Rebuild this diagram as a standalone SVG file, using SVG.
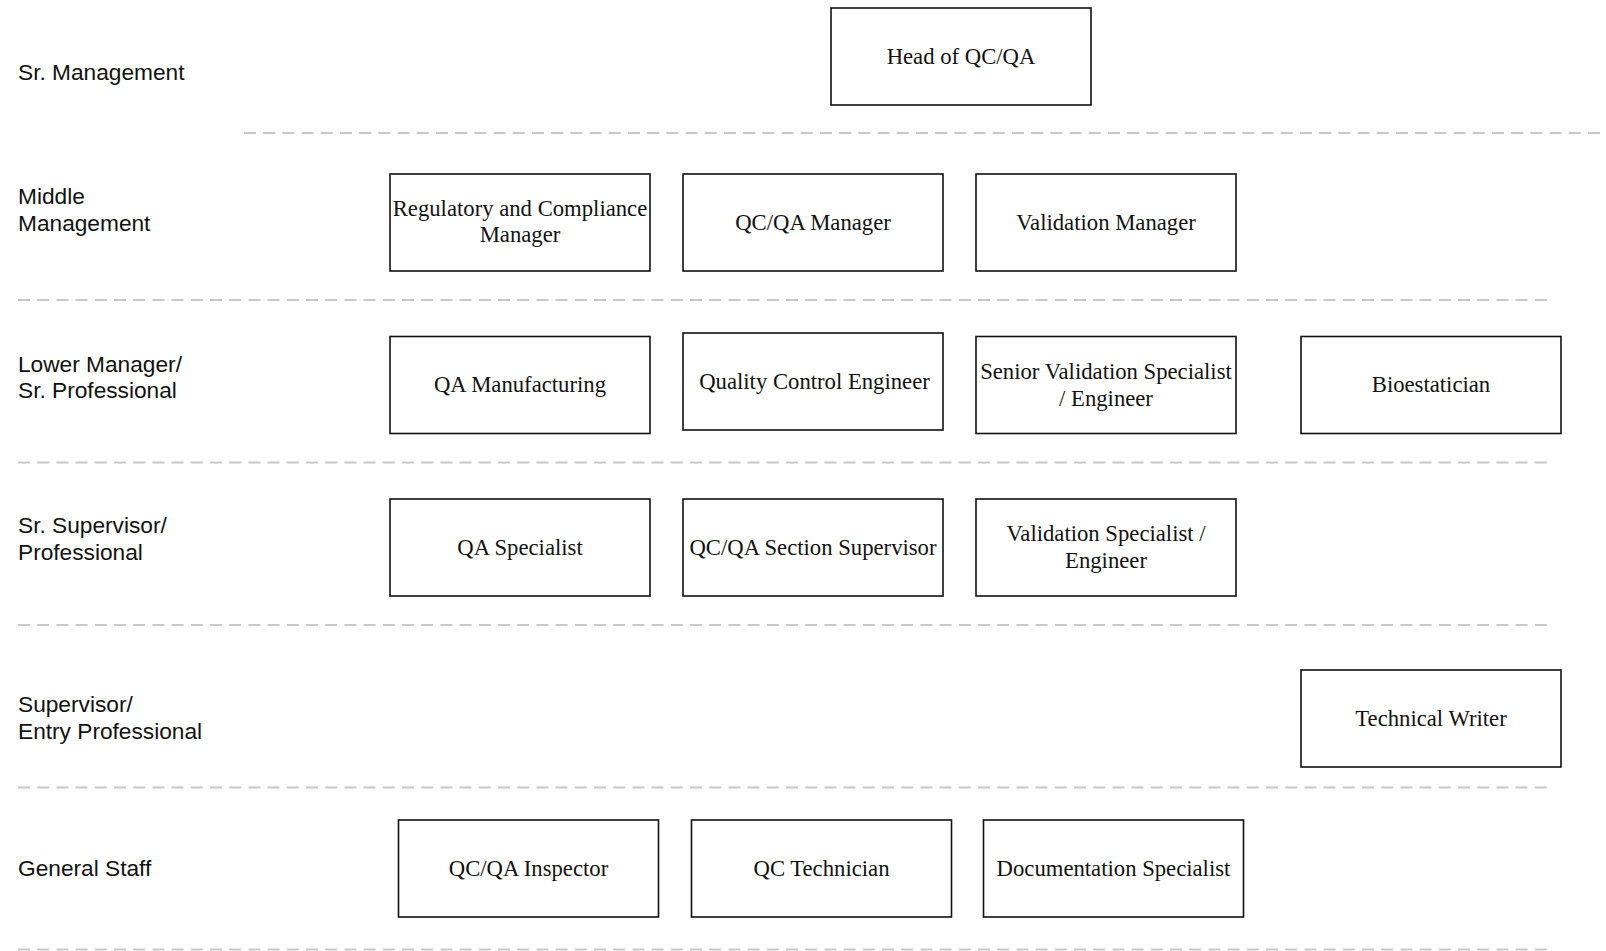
<svg xmlns="http://www.w3.org/2000/svg" width="1606" height="951" viewBox="0 0 1606 951">
<style>
.bg{fill:#ffffff}
.box{fill:#ffffff;stroke:#111111;stroke-width:1.6}
.t{font-family:"Liberation Serif","Times New Roman",serif;font-size:22.7px;fill:#111111;text-anchor:middle}
.lbl{font-family:"Liberation Sans",Arial,sans-serif;font-size:22.7px;fill:#111111}
.sep{stroke:#c8c8c8;stroke-width:2;stroke-dasharray:12 7.2;fill:none}
</style>
<rect class="bg" x="0" y="0" width="1606" height="951"/>
<g id="separators">
<line class="sep" x1="244" y1="133" x2="1606" y2="133"/>
<line class="sep" x1="18" y1="300" x2="1547" y2="300"/>
<line class="sep" x1="18" y1="462.5" x2="1547" y2="462.5"/>
<line class="sep" x1="18" y1="625" x2="1547" y2="625"/>
<line class="sep" x1="18" y1="787.5" x2="1547" y2="787.5"/>
<line class="sep" x1="18" y1="949.5" x2="1547" y2="949.5"/>
</g>
<g id="levels">
<text class="lbl" x="18" y="80">Sr. Management</text>
<text class="lbl" x="18" y="204">Middle</text>
<text class="lbl" x="18" y="231">Management</text>
<text class="lbl" x="18" y="371.5">Lower Manager/</text>
<text class="lbl" x="18" y="398">Sr. Professional</text>
<text class="lbl" x="18" y="533">Sr. Supervisor/</text>
<text class="lbl" x="18" y="560">Professional</text>
<text class="lbl" x="18" y="711.5">Supervisor/</text>
<text class="lbl" x="18" y="738.5">Entry Professional</text>
<text class="lbl" x="18" y="875.5">General Staff</text>
</g>
<g id="head-qcqa"><rect class="box" x="831" y="8" width="260" height="97"/><text class="t" x="961" y="63.5">Head of QC/QA</text></g>
<g id="regulatory-compliance-manager"><rect class="box" x="390" y="174" width="260" height="97"/><text class="t" x="520" y="215.5">Regulatory and Compliance</text><text class="t" x="520" y="242">Manager</text></g>
<g id="qcqa-manager"><rect class="box" x="683" y="174" width="260" height="97"/><text class="t" x="813" y="229.5">QC/QA Manager</text></g>
<g id="validation-manager"><rect class="box" x="976" y="174" width="260" height="97"/><text class="t" x="1106" y="229.5">Validation Manager</text></g>
<g id="qa-manufacturing"><rect class="box" x="390" y="336.5" width="260" height="97"/><text class="t" x="520" y="392">QA Manufacturing</text></g>
<g id="quality-control-engineer"><rect class="box" x="683" y="333" width="260" height="97"/><text class="t" x="814.5" y="388.5">Quality Control Engineer</text></g>
<g id="senior-validation-specialist"><rect class="box" x="976" y="336.5" width="260" height="97"/><text class="t" x="1106" y="379">Senior Validation Specialist</text><text class="t" x="1106" y="405.5">/ Engineer</text></g>
<g id="bioestatician"><rect class="box" x="1301" y="336.5" width="260" height="97"/><text class="t" x="1431" y="392">Bioestatician</text></g>
<g id="qa-specialist"><rect class="box" x="390" y="499" width="260" height="97"/><text class="t" x="520" y="554.5">QA Specialist</text></g>
<g id="qcqa-section-supervisor"><rect class="box" x="683" y="499" width="260" height="97"/><text class="t" x="813" y="554.5">QC/QA Section Supervisor</text></g>
<g id="validation-specialist"><rect class="box" x="976" y="499" width="260" height="97"/><text class="t" x="1106" y="541">Validation Specialist /</text><text class="t" x="1106" y="567.5">Engineer</text></g>
<g id="technical-writer"><rect class="box" x="1301" y="670" width="260" height="97"/><text class="t" x="1431" y="725.5">Technical Writer</text></g>
<g id="qcqa-inspector"><rect class="box" x="398.5" y="820" width="260" height="97"/><text class="t" x="528.5" y="875.5">QC/QA Inspector</text></g>
<g id="qc-technician"><rect class="box" x="691.5" y="820" width="260" height="97"/><text class="t" x="821.5" y="875.5">QC Technician</text></g>
<g id="documentation-specialist"><rect class="box" x="983.5" y="820" width="260" height="97"/><text class="t" x="1113.5" y="875.5">Documentation Specialist</text></g>
<g id="connectors"></g>
</svg>
